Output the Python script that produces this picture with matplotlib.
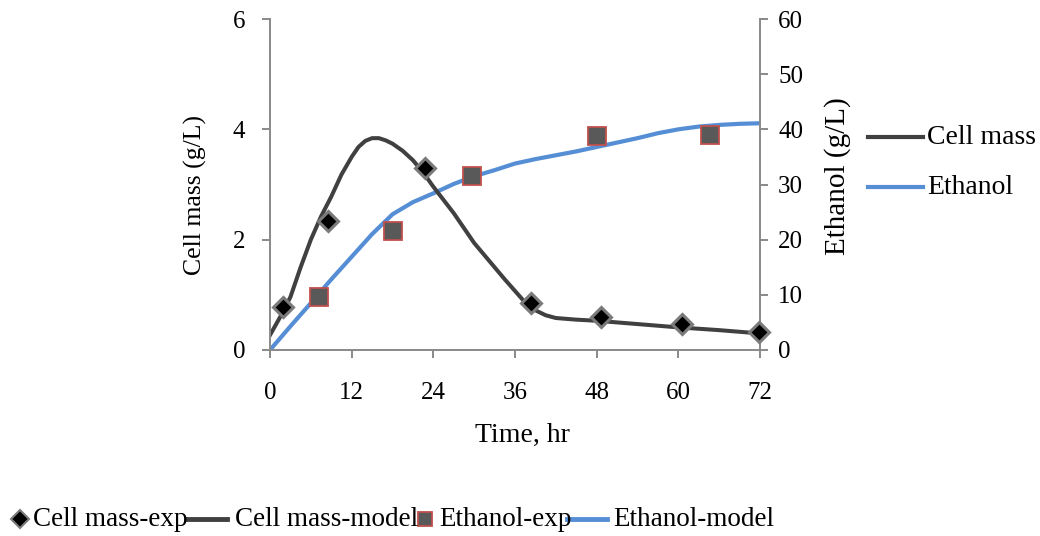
import matplotlib
matplotlib.use("Agg")
import matplotlib.pyplot as plt
from matplotlib.lines import Line2D

plt.rcParams['font.family'] = ['Liberation Serif', 'DejaVu Serif']

# Experimental data
cell_exp_t = [1.9, 8.5, 22.8, 38.4, 48.6, 60.5, 71.9]
cell_exp_v = [0.78, 2.34, 3.30, 0.85, 0.60, 0.47, 0.33]
eth_exp_t = [7.2, 18.1, 29.7, 48.0, 64.7]
eth_exp_v = [9.6, 21.6, 31.5, 38.8, 39.0]

# Model curves
cell_mod_t = [0, 1.5, 3, 4.5, 6, 7.5, 9, 10.5, 12, 13, 14, 15, 16, 17, 18, 19.5, 21, 22.5, 24, 25.5, 27, 28.5,
              30, 31.5, 33, 34.5, 36, 37.5, 39, 40.5, 42, 45, 48, 54, 60, 66, 72]
cell_mod_v = [0.27, 0.6, 0.96, 1.5, 2.0, 2.42, 2.78, 3.18, 3.5, 3.68, 3.79, 3.84, 3.84, 3.80, 3.74, 3.61, 3.44, 3.22,
              2.96, 2.72, 2.48, 2.21, 1.94, 1.72, 1.5, 1.28, 1.07, 0.86, 0.72, 0.63, 0.58, 0.55, 0.53,
              0.47, 0.41, 0.36, 0.30]
eth_mod_t = [0, 3, 6, 9, 12, 15, 18, 21, 24, 27, 30, 33, 36, 39, 42, 45, 48, 51, 54, 57, 60, 63, 66, 69, 72]
eth_mod_v = [0, 4.3, 8.5, 12.8, 16.9, 21.0, 24.6, 26.8, 28.4, 30.1, 31.5, 32.6, 33.8, 34.6, 35.3, 36.0,
             36.8, 37.6, 38.4, 39.3, 40.0, 40.5, 40.8, 41.0, 41.1]

x_ticks = [0, 12, 24, 36, 48, 60, 72]
left_ticks = [0, 2, 4, 6]
right_ticks = [0, 10, 20, 30, 40, 50, 60]

legend_labels = ['Cell mass-exp', 'Cell mass-model', 'Ethanol-exp', 'Ethanol-model']
side_labels = ['Cell mass', 'Ethanol']

cell_color = '#404040'
eth_color = '#558ED5'
spine_color = '#898989'

W, H = 1040, 536
fig = plt.figure(figsize=(10.4, 5.36), dpi=100)
ax = fig.add_axes([270/W, 1-350/H, 490/W, 331/H])
ax2 = ax.twinx()

ax.plot(cell_mod_t, cell_mod_v, color=cell_color, lw=2.9, zorder=2, solid_joinstyle='round')
ax2.plot(eth_mod_t, eth_mod_v, color=eth_color, lw=3.0, zorder=2, solid_joinstyle='round')
ax.plot(cell_exp_t, cell_exp_v, ls='none', marker='D', ms=10, mfc='black', mec='#7a7a7a', mew=2.2, zorder=5, clip_on=False)
ax2.plot(eth_exp_t, eth_exp_v, ls='none', marker='s', ms=12.5, mfc='#595959', mec='#C0504D', mew=1.3, zorder=5, clip_on=False)

ax.set_zorder(ax2.get_zorder() + 1)
ax.patch.set_visible(False)

ax.set_xlim(0, 72)
ax.set_ylim(0, 6)
ax2.set_ylim(0, 60)
ax.set_xticks(x_ticks)
ax.set_yticks(left_ticks)
ax2.set_yticks(right_ticks)

for a in (ax, ax2):
    a.spines['top'].set_visible(False)
    for s in a.spines.values():
        s.set_color(spine_color)
        s.set_linewidth(1.4)
    a.tick_params(colors=spine_color, labelcolor='black', labelsize=18, length=6, width=1.4)
ax.spines['right'].set_visible(False)
ax2.spines['left'].set_visible(False)
ax2.spines['bottom'].set_visible(False)
ax.tick_params(axis='y', pad=12)
ax2.tick_params(axis='y', pad=7)
ax.tick_params(axis='x', pad=17)

ax.set_xlabel('Time, hr', fontsize=20)
ax.xaxis.set_label_coords((522-270)/490, (350-435)/331)
ax.xaxis.label.set_va('center')
ax.set_ylabel('Cell mass (g/L)', fontsize=18.5)
ax.yaxis.set_label_coords((195-270)/490, (350-195)/331)
ax.yaxis.label.set_va('center')
ax2.set_ylabel('Ethanol (g/L)', fontsize=21)
ax2.yaxis.set_label_coords((838-270)/490, (350-176)/331)
ax2.yaxis.label.set_va('center')

def fx(px):
    return px / W

def fy(py):
    return 1 - py / H

# Right legend
for (lab, col, yy) in [(side_labels[0], cell_color, 137), (side_labels[1], eth_color, 187)]:
    fig.add_artist(Line2D([fx(868), fx(923)], [fy(yy), fy(yy)], color=col, lw=3.0, transform=fig.transFigure))
    fig.text(fx(927), fy(yy), lab, fontsize=20, va='center', ha='left')

# Bottom legend
yb = 519
fig.add_artist(Line2D([fx(20)], [fy(yb)], ls='none', marker='D', ms=9, mfc='black', mec='#7a7a7a', mew=1.5,
                      transform=fig.transFigure))
fig.text(fx(33), fy(yb), legend_labels[0], fontsize=19.5, va='center', ha='left')
fig.add_artist(Line2D([fx(187), fx(227)], [fy(yb), fy(yb)], color=cell_color, lw=3.5, transform=fig.transFigure))
fig.text(fx(235), fy(yb), legend_labels[1], fontsize=19.5, va='center', ha='left')
fig.add_artist(Line2D([fx(425)], [fy(yb)], ls='none', marker='s', ms=10, mfc='#595959', mec='#C0504D', mew=1.3,
                      transform=fig.transFigure))
fig.text(fx(439), fy(yb), legend_labels[2], fontsize=19.5, va='center', ha='left')
fig.add_artist(Line2D([fx(567), fx(607)], [fy(yb), fy(yb)], color=eth_color, lw=3.5, transform=fig.transFigure))
fig.text(fx(613), fy(yb), legend_labels[3], fontsize=19.5, va='center', ha='left')

fig.savefig('out.png', dpi=100)
